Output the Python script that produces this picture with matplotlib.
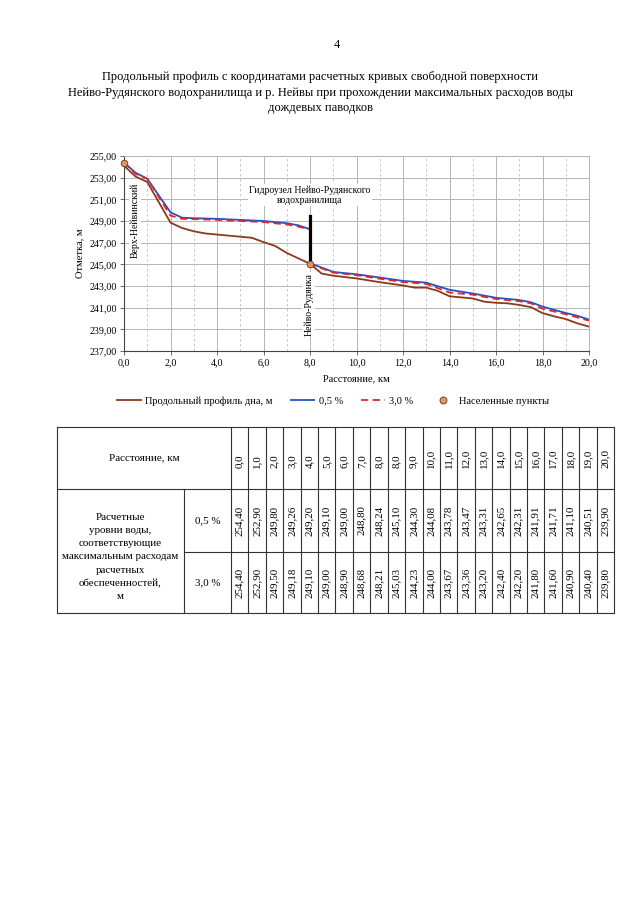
import numpy as np
import matplotlib.pyplot as plt
from matplotlib.lines import Line2D

plt.rcParams['font.family'] = ['Liberation Serif', 'DejaVu Serif']

# table data
dist_tab = ["0,0", "1,0", "2,0", "3,0", "4,0", "5,0", "6,0", "7,0", "8,0", "8,0", "9,0",
            "10,0", "11,0", "12,0", "13,0", "14,0", "15,0", "16,0", "17,0", "18,0", "19,0", "20,0"]
lvl05_tab = [254.40, 252.90, 249.80, 249.26, 249.20, 249.10, 249.00, 248.80, 248.24, 245.10, 244.30,
             244.08, 243.78, 243.47, 243.31, 242.65, 242.31, 241.91, 241.71, 241.10, 240.51, 239.90]
lvl30_tab = [254.40, 252.90, 249.50, 249.18, 249.10, 249.00, 248.90, 248.68, 248.21, 245.03, 244.23,
             244.00, 243.67, 243.36, 243.20, 242.40, 242.20, 241.80, 241.60, 240.90, 240.40, 239.80]

# chart curves
bed_x = [0.0, 0.5, 1.0, 2.0, 2.5, 3.0, 3.5, 4.0, 5.0, 5.5, 6.0, 6.5, 7.0, 7.5, 8.0, 8.5, 9.0,
         10.0, 11.0, 12.0, 12.5, 13.0, 13.5, 14.0, 15.0, 15.5, 16.0, 16.5, 17.0, 17.5, 18.0,
         18.5, 19.0, 19.5, 20.0]
bed_y = [254.1, 253.1, 252.6, 248.85, 248.35, 248.05, 247.85, 247.75, 247.55, 247.45, 247.05,
         246.7, 246.05, 245.55, 245.05, 244.15, 243.95, 243.7, 243.35, 243.05, 242.85, 242.85,
         242.55, 242.05, 241.85, 241.55, 241.45, 241.4, 241.25, 241.05, 240.5, 240.2, 239.95,
         239.55, 239.25]

w_x = [0.0, 0.5, 1.0, 2.0, 2.5, 3.0, 4.0, 5.0, 6.0, 7.0, 7.5, 8.0, 8.0, 9.0, 10.0, 11.0, 12.0,
       13.0, 14.0, 15.0, 16.0, 17.0, 17.5, 18.0, 18.5, 19.0, 19.5, 20.0]
w05_y = [254.40, 253.45, 252.90, 249.80, 249.30, 249.26, 249.20, 249.10, 249.00, 248.80, 248.60,
         248.24, 245.10, 244.30, 244.08, 243.78, 243.47, 243.31, 242.65, 242.31, 241.91, 241.71,
         241.50, 241.10, 240.80, 240.51, 240.25, 239.90]
w30_y = [254.40, 253.35, 252.90, 249.50, 249.20, 249.18, 249.10, 249.00, 248.90, 248.68, 248.48,
         248.21, 245.03, 244.23, 244.00, 243.67, 243.36, 243.20, 242.40, 242.20, 241.80, 241.60,
         241.40, 240.90, 240.65, 240.40, 240.10, 239.80]

settle_x = [0.0, 8.0]
settle_y = [254.4, 245.0]
dam_x = 8.0
dam_bottom = 245.0
dam_top = 249.5

c_bed = '#8b3a1c'
c_05 = '#2352c8'
c_30 = '#e0262b'
c_pt = '#e8915a'

fig = plt.figure(figsize=(6.4, 9.05), dpi=100)

fig.text(337/640, 1-45/905, "4", ha='center', va='center', fontsize=9)
fig.text(0.5, 1-77/905, "Продольный профиль с координатами расчетных кривых свободной поверхности",
         ha='center', va='center', fontsize=9)
fig.text(0.5, 1-93/905, "Нейво-Рудянского водохранилища и р. Нейвы при прохождении максимальных расходов воды",
         ha='center', va='center', fontsize=9)
fig.text(0.5, 1-108/905, "дождевых паводков", ha='center', va='center', fontsize=9)

ax = fig.add_axes([124/640, 1-351/905, 465/640, 195/905])
ax.set_xlim(0, 20)
ax.set_ylim(237, 255)
ax.set_xticks(np.arange(0, 21, 2))
ax.set_xticks(np.arange(1, 20, 2), minor=True)
ax.set_yticks(np.arange(237, 256, 2))
ax.set_xticklabels([f"{v:.1f}".replace('.', ',') for v in np.arange(0, 21, 2)], fontsize=7.2)
ax.set_yticklabels([f"{v:.2f}".replace('.', ',') for v in np.arange(237, 256, 2)], fontsize=7.2)
ax.grid(True, which='major', color='#b5b5b5', lw=0.7)
ax.grid(True, which='minor', axis='x', color='#c0c0c0', lw=0.6, ls=(0, (3, 3)))
ax.tick_params(which='minor', length=0)
ax.tick_params(which='major', length=3, width=0.6, color='#555555', pad=2)
for s in ['top', 'right']:
    ax.spines[s].set_color('#b5b5b5')
    ax.spines[s].set_linewidth(0.7)
for s in ['left', 'bottom']:
    ax.spines[s].set_color('#444444')
    ax.spines[s].set_linewidth(0.8)
ax.set_axisbelow(True)

ax.plot(bed_x, bed_y, color=c_bed, lw=1.3, zorder=3)
ax.plot(w_x, w05_y, color=c_05, lw=1.3, zorder=4)
ax.plot(w_x, w30_y, color=c_30, lw=1.3, ls=(0, (4, 2.5)), zorder=5)
ax.plot([dam_x, dam_x], [dam_bottom, dam_top], color='black', lw=2.3, zorder=6)
ax.scatter(settle_x, settle_y, s=22, color=c_pt, edgecolor='#6b4a2a', lw=0.7, zorder=7, clip_on=False)

bb = dict(facecolor='white', edgecolor='none', pad=1)
ax.text(8.0, 251.4, "Гидроузел Нейво-Рудянского\nводохранилища", ha='center', va='center',
        fontsize=7, linespacing=1.2, bbox=bb, zorder=8)
ax.text(0.47, 249.1, "Верх-Нейвинский", rotation=90, ha='center', va='center', fontsize=7,
        bbox=bb, zorder=8)
ax.text(7.94, 241.3, "Нейво-Рудянка", rotation=90, ha='center', va='center', fontsize=7,
        bbox=bb, zorder=8)
ax.set_ylabel("Отметка, м", fontsize=7.5, labelpad=4)
ax.set_xlabel("Расстояние, км", fontsize=7.5, labelpad=5)

handles = [Line2D([], [], color=c_bed, lw=1.3),
           Line2D([], [], color=c_05, lw=1.3),
           Line2D([], [], color=c_30, lw=1.3, ls=(0, (4, 2.5))),
           Line2D([], [], ls='none', marker='o', ms=5, mfc=c_pt, mec='#6b4a2a', mew=0.7)]
fig.legend(handles, ["Продольный профиль дна, м", "0,5 %", "3,0 %", "Населенные пункты"],
           loc='center', bbox_to_anchor=(333/640, 1-401/905), ncol=4, frameon=False,
           fontsize=7.5, handlelength=2.3, columnspacing=1.7, handletextpad=0.4)

# table
tb = fig.add_axes([0, 0, 1, 1], zorder=-1)
tb.set_xlim(0, 640)
tb.set_ylim(905, 0)
tb.axis('off')
tc = '#333333'
x0, x1, x2, xr = 57, 184, 231, 614
yt, yh, ym, yb = 427, 489, 552, 613
cw = (xr - x2) / len(dist_tab)
lw = 0.8
fs = 7.9
tb.plot([x0, xr, xr, x0, x0], [yt, yt, yb, yb, yt], color=tc, lw=lw)
tb.plot([x0, xr], [yh, yh], color=tc, lw=lw)
tb.plot([x1, xr], [ym, ym], color=tc, lw=lw)
tb.plot([x1, x1], [yh, yb], color=tc, lw=lw)
for i in range(len(dist_tab)):
    xe = x2 + i * cw
    tb.plot([xe, xe], [yt, yb], color=tc, lw=lw)
for i, d in enumerate(dist_tab):
    xc = x2 + (i + 0.5) * cw
    tb.text(xc, 468, d, rotation=90, ha='center', va='bottom', fontsize=fs)
    tb.text(xc, (yh + ym) / 2, f"{lvl05_tab[i]:.2f}".replace('.', ','), rotation=90,
            ha='center', va='center', fontsize=fs)
    tb.text(xc, (ym + yb) / 2, f"{lvl30_tab[i]:.2f}".replace('.', ','), rotation=90,
            ha='center', va='center', fontsize=fs)
tb.text((x0 + x2) / 2, (yt + yh) / 2, "Расстояние, км", ha='center', va='center', fontsize=fs)
tb.text((x0 + x1) / 2, 557, "Расчетные\nуровни воды,\nсоответствующие\nмаксимальным расходам\nрасчетных\nобеспеченностей,\nм",
        ha='center', va='center', fontsize=fs, linespacing=1.6)
tb.text((x1 + x2) / 2, (yh + ym) / 2, "0,5 %", ha='center', va='center', fontsize=fs)
tb.text((x1 + x2) / 2, (ym + yb) / 2, "3,0 %", ha='center', va='center', fontsize=fs)

fig.savefig('out.png', dpi=100)
